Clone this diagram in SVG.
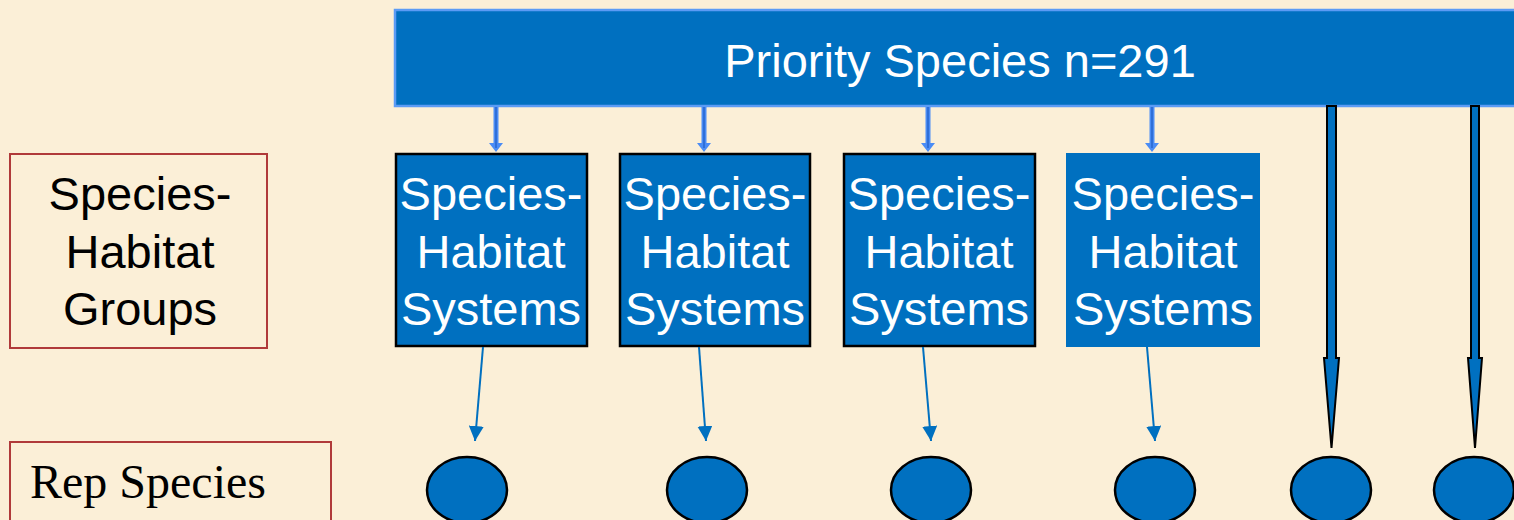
<svg xmlns="http://www.w3.org/2000/svg" width="1514" height="520" viewBox="0 0 1514 520">
<defs>
<style>
.sys{fill:#0070C0;stroke:#000;stroke-width:2.5}
.wt{font-family:"Liberation Sans",Arial,sans-serif;font-size:47px;fill:#fff;text-anchor:middle}
.bt{font-family:"Liberation Sans",Arial,sans-serif;font-size:47px;fill:#000;text-anchor:middle}
.lbl{fill:none;stroke:#B03A3A;stroke-width:2}
.thin{stroke:#0070C0;stroke-width:2;fill:none}
.top{stroke:#4A8CF5;stroke-width:5;fill:none}
.topc{stroke:#2F6FD8;stroke-width:2;fill:none}
.blk{fill:#0070C0;stroke:#000;stroke-width:2}
.ell{fill:#0070C0;stroke:#000;stroke-width:2.5}
</style>
<marker id="ah" markerWidth="15" markerHeight="15" viewBox="0 0 15 15" refX="15" refY="7.5" orient="auto" markerUnits="userSpaceOnUse">
<path d="M0,0 L15,7.5 L0,15 Z" fill="#0070C0"/>
</marker>
</defs>
<rect x="0" y="0" width="1514" height="520" fill="#FBEFD7"/>

<g id="priority">
<rect x="395" y="10" width="1130" height="96" fill="#0070C0" stroke="#5B9BF5" stroke-width="2.5"/>
<text x="960" y="77" class="wt">Priority Species n=291</text>
</g>

<g id="label-groups">
<rect x="10" y="154" width="257" height="194" class="lbl"/>
<text class="bt" x="140" y="210">Species-</text>
<text class="bt" x="140" y="268">Habitat</text>
<text class="bt" x="140" y="325">Groups</text>
</g>

<g id="label-rep">
<rect x="10" y="442" width="321" height="100" class="lbl"/>
<text x="30" y="498" font-family="'Liberation Serif','Times New Roman',serif" font-size="48" fill="#000">Rep Species</text>
</g>

<g id="sys1">
<rect x="396" y="154" width="191" height="192" class="sys"/>
<text class="wt" x="491" y="210">Species-</text>
<text class="wt" x="491" y="268">Habitat</text>
<text class="wt" x="491" y="325">Systems</text>
</g>
<g id="sys2">
<rect x="620" y="154" width="190" height="192" class="sys"/>
<text class="wt" x="715" y="210">Species-</text>
<text class="wt" x="715" y="268">Habitat</text>
<text class="wt" x="715" y="325">Systems</text>
</g>
<g id="sys3">
<rect x="844" y="154" width="191" height="192" class="sys"/>
<text class="wt" x="939" y="210">Species-</text>
<text class="wt" x="939" y="268">Habitat</text>
<text class="wt" x="939" y="325">Systems</text>
</g>
<g id="sys4">
<rect x="1066" y="153" width="194" height="194" fill="#0070C0"/>
<text class="wt" x="1163" y="210">Species-</text>
<text class="wt" x="1163" y="268">Habitat</text>
<text class="wt" x="1163" y="325">Systems</text>
</g>

<g id="rep1"><ellipse cx="467" cy="490" rx="40" ry="33" class="ell"/></g>
<g id="rep2"><ellipse cx="707" cy="490" rx="40" ry="33" class="ell"/></g>
<g id="rep3"><ellipse cx="931" cy="490" rx="40" ry="33" class="ell"/></g>
<g id="rep4"><ellipse cx="1155" cy="490" rx="40" ry="33" class="ell"/></g>
<g id="rep5"><ellipse cx="1331" cy="490" rx="40" ry="33" class="ell"/></g>
<g id="rep6"><ellipse cx="1474" cy="490" rx="40" ry="33" class="ell"/></g>

<g id="connectors">
<line x1="496" y1="107" x2="496" y2="145" class="top"/>
<line x1="704" y1="107" x2="704" y2="145" class="top"/>
<line x1="928" y1="107" x2="928" y2="145" class="top"/>
<line x1="1152" y1="107" x2="1152" y2="145" class="top"/>
<path d="M489,143 L496,152 L503,143 Z M697,143 L704,152 L711,143 Z M921,143 L928,152 L935,143 Z M1145,143 L1152,152 L1159,143 Z" fill="#4A8CF5"/>
<line x1="496" y1="107" x2="496" y2="148" class="topc"/>
<line x1="704" y1="107" x2="704" y2="148" class="topc"/>
<line x1="928" y1="107" x2="928" y2="148" class="topc"/>
<line x1="1152" y1="107" x2="1152" y2="148" class="topc"/>

<line x1="483" y1="347" x2="475" y2="441" class="thin" marker-end="url(#ah)"/>
<line x1="699" y1="347" x2="706" y2="441" class="thin" marker-end="url(#ah)"/>
<line x1="923" y1="347" x2="931" y2="441" class="thin" marker-end="url(#ah)"/>
<line x1="1147" y1="347" x2="1155" y2="441" class="thin" marker-end="url(#ah)"/>

<path d="M1327,106 L1336,106 L1336,358 L1339,358 L1331.5,448 L1324,358 L1327,358 Z" class="blk"/>
<path d="M1471,106 L1479,106 L1479,358 L1482,358 L1475,448 L1468,358 L1471,358 Z" class="blk"/>
</g>
</svg>
